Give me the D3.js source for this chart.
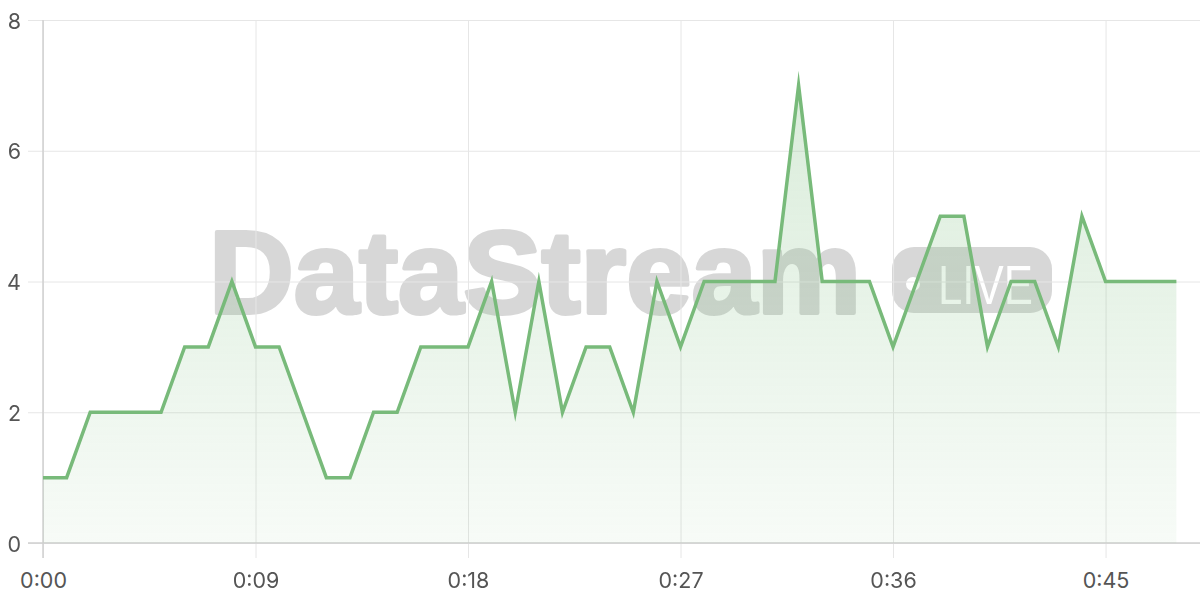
<!DOCTYPE html>
<head>
<meta charset="utf-8">
<title>DataStream live chart</title>
<script src="https://cdn.jsdelivr.net/npm/d3@7"></script>
<style>
body { margin: 0; background: #fff; }
.tick text { font: 21.5px Inter, "Liberation Sans", sans-serif; fill: #555; }
</style>
</head>
<body>
<script>
// one reading per second
var seconds = d3.range(0, 49);
var values = [1, 1, 2, 2, 2, 2, 3, 3, 4, 3, 3, 2, 1, 1, 2, 2, 3, 3, 3, 4,
              2, 4, 2, 3, 3, 2, 4, 3, 4, 4, 4, 4, 7, 4, 4, 4, 3, 4, 5, 5,
              3, 4, 4, 3, 5, 4, 4, 4, 4];
var xTicks = [0, 9, 18, 27, 36, 45];
var yTicks = [0, 2, 4, 6, 8];

var width = 1200, height = 600;
var data = seconds.map(function (s, i) { return { t: s, v: values[i] }; });

var x = d3.scaleLinear().domain([0, 49]).range([43, 1200]);
var y = d3.scaleLinear().domain([0, 8]).range([543, 20]);

var svg = d3.select('body').append('svg')
	.attr('width', width)
	.attr('height', height);

var defs = svg.append('defs');
var grad = defs.append('linearGradient')
	.attr('id', 'fillGrad')
	.attr('x1', 0).attr('y1', 0).attr('x2', 0).attr('y2', 1);
grad.append('stop').attr('offset', '0%').attr('stop-color', '#7bbd7d').attr('stop-opacity', 0.28);
grad.append('stop').attr('offset', '100%').attr('stop-color', '#7bbd7d').attr('stop-opacity', 0.06);

// watermark
var wm = svg.append('g').style('opacity', 0.16);
wm.append('text')
	.attr('x', 209).attr('y', 313)
	.attr('textLength', 652)
	.attr('lengthAdjust', 'spacingAndGlyphs')
	.style('font', 'bold 116px "Liberation Sans", Arial, sans-serif')
	.style('fill', '#000')
	.style('stroke', '#000').style('stroke-width', 4).style('stroke-linejoin', 'round')
	.text('DataStream');
var mask = defs.append('mask').attr('id', 'liveMask');
mask.append('rect').attr('x', 892).attr('y', 247).attr('width', 160).attr('height', 66).attr('rx', 22).attr('fill', '#fff');
mask.append('circle').attr('cx', 913).attr('cy', 284).attr('r', 7).attr('fill', '#000');
mask.append('text')
	.attr('x', 938).attr('y', 304)
	.attr('textLength', 95)
	.attr('lengthAdjust', 'spacingAndGlyphs')
	.style('font', '56px "Liberation Sans", Arial, sans-serif')
	.attr('fill', '#000')
	.text('LIVE');
wm.append('rect')
	.attr('x', 892).attr('y', 247).attr('width', 160).attr('height', 66)
	.attr('fill', '#000')
	.attr('mask', 'url(#liveMask)');

// grid + axes
var gx = svg.append('g')
	.attr('transform', 'translate(0,543)')
	.call(d3.axisBottom(x).tickValues(xTicks)
		.tickSize(-523).tickPadding(22)
		.tickFormat(function (d) { return Math.floor(d / 60) + ':' + d3.format('02')(d % 60); }));
gx.selectAll('.tick line').attr('y2', 15).attr('y1', -523);
gx.select('.domain').remove();

var gy = svg.append('g')
	.attr('transform', 'translate(43,0)')
	.call(d3.axisLeft(y).tickValues(yTicks).tickSize(15).tickPadding(7));
gy.selectAll('.tick line').attr('x1', -15).attr('x2', 1200 - 43);
gy.select('.domain').remove();

svg.selectAll('.tick line').style('stroke', '#e6e6e6').style('stroke-width', 1);
svg.selectAll('.tick text').attr('dy', null);
gy.selectAll('.tick text').attr('dominant-baseline', 'central');

// axis lines
svg.append('line')
	.attr('x1', x(0)).attr('x2', x(0)).attr('y1', y(8)).attr('y2', y(0) + 15)
	.style('stroke', '#d0d0d0').style('stroke-width', 1.5);
svg.append('line')
	.attr('x1', 28).attr('x2', 1200).attr('y1', y(0)).attr('y2', y(0))
	.style('stroke', '#cfcfcf').style('stroke-width', 1.5);

// area + line
svg.append('path')
	.datum(data)
	.attr('d', d3.area().x(function (d) { return x(d.t); }).y0(y(0)).y1(function (d) { return y(d.v); }))
	.style('fill', 'url(#fillGrad)');

svg.append('path')
	.datum(data)
	.attr('d', d3.line().x(function (d) { return x(d.t); }).y(function (d) { return y(d.v); }))
	.style('fill', 'none')
	.style('stroke', '#78ba7a')
	.style('stroke-width', 3.5)
	.style('stroke-linejoin', 'miter')
	.style('stroke-miterlimit', 12);

gx.selectAll('.tick text').attr('y', 37).attr('dominant-baseline', 'central');
</script>
</body>
